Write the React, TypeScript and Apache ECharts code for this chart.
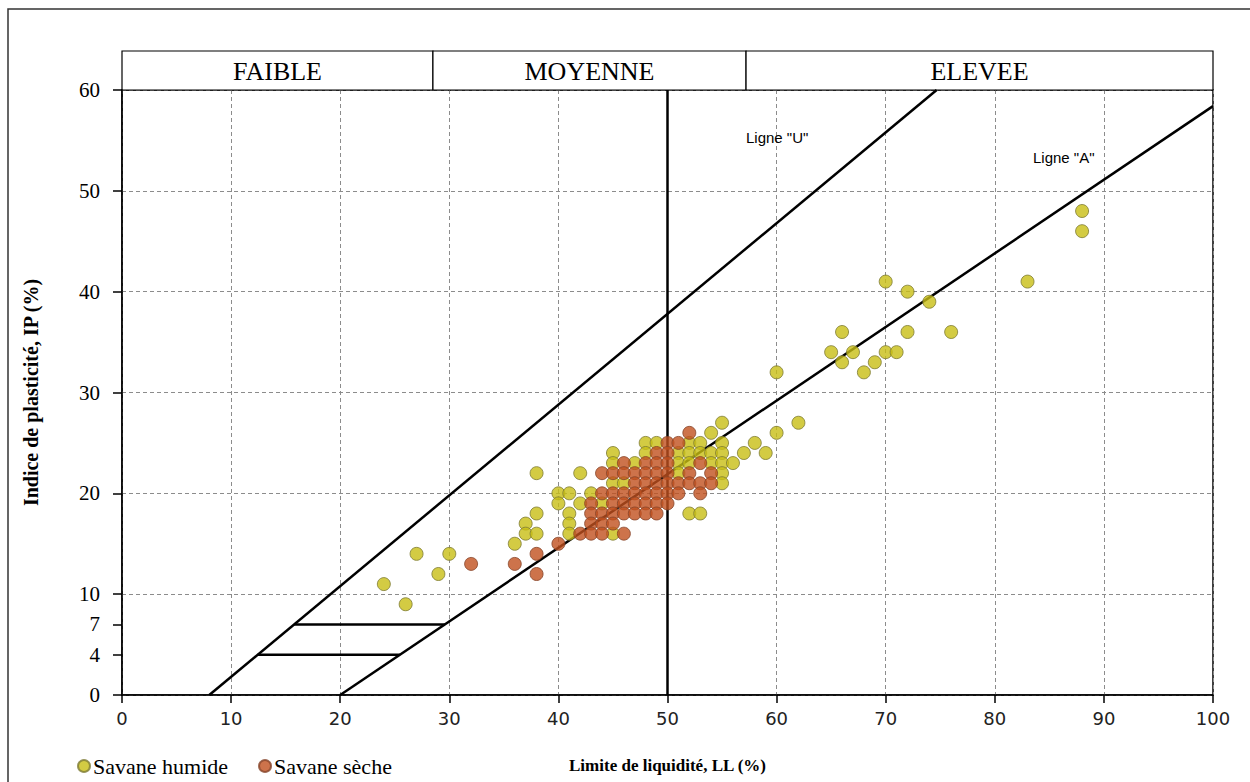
import React, { useEffect, useRef } from "react";
import * as echarts from "echarts";

// Savane humide points [LL, IP]
const humidePoints: number[][] = [
  [24, 11], [26, 9], [27, 14], [29, 12], [30, 14],
  [36, 15], [37, 17], [37, 16], [38, 16], [38, 18], [38, 22],
  [40, 20], [40, 19], [41, 20], [41, 18], [41, 17], [41, 16],
  [42, 22], [42, 19], [43, 20], [44, 19],
  [45, 24], [45, 23], [45, 21], [45, 16], [46, 21],
  [47, 23], [48, 25], [48, 24], [49, 25],
  [51, 24], [51, 23], [51, 22], [52, 25], [52, 24], [52, 23],
  [53, 25], [53, 24], [54, 26], [54, 24], [54, 23],
  [55, 27], [55, 25], [55, 24], [55, 23], [55, 22], [55, 21],
  [56, 23], [57, 24], [52, 18], [53, 18],
  [58, 25], [59, 24], [60, 26], [60, 32], [62, 27],
  [65, 34], [66, 36], [66, 33], [67, 34], [68, 32], [69, 33],
  [70, 41], [70, 34], [71, 34], [72, 40], [72, 36], [74, 39], [76, 36],
  [83, 41], [88, 48], [88, 46],
];

// Savane sèche points [LL, IP]
const sechePoints: number[][] = [
  [32, 13], [36, 13], [38, 14], [38, 12], [40, 15],
  [42, 16], [43, 19], [43, 18], [43, 17], [43, 16],
  [44, 22], [44, 20], [44, 18], [44, 17], [44, 16],
  [45, 22], [45, 20], [45, 19], [45, 18], [45, 17],
  [46, 23], [46, 22], [46, 20], [46, 19], [46, 18], [46, 16],
  [47, 22], [47, 21], [47, 20], [47, 19], [47, 18],
  [48, 23], [48, 22], [48, 21], [48, 20], [48, 19], [48, 18],
  [49, 24], [49, 23], [49, 22], [49, 21], [49, 20], [49, 19], [49, 18],
  [50, 25], [50, 24], [50, 23], [50, 22], [50, 21], [50, 20], [50, 19],
  [51, 25], [51, 21], [51, 20],
  [52, 26], [52, 22], [52, 21],
  [53, 23], [53, 21], [53, 20],
  [54, 22], [54, 21],
];

// Reference lines (end points)
const ligneU: number[][] = [[8, 0], [74.67, 60]];
const ligneA: number[][] = [[20, 0], [100, 58.4]];
const ligneLL50: number[][] = [[50, 0], [50, 60]];
const lignePI7: number[][] = [[15.78, 7], [29.59, 7]];
const lignePI4: number[][] = [[12.44, 4], [25.48, 4]];

const yTickValues = [0, 4, 7, 10, 20, 30, 40, 50, 60];
const classNames = ["FAIBLE", "MOYENNE", "ELEVEE"];
const classBounds = [0, 28.5, 57.2, 100];

const SERIF = "'Liberation Serif', 'Times New Roman', serif";
const SANS = "'DejaVu Sans', Verdana, sans-serif";
const ARIAL = "'Liberation Sans', Arial, sans-serif";

export default function App() {
  const ref = useRef<HTMLDivElement>(null);

  useEffect(() => {
    if (!ref.current) return;
    const chart = echarts.init(ref.current, undefined, { renderer: "svg" });

    const refLine = (data: number[][]) => ({
      type: "line",
      data,
      symbol: "none",
      silent: true,
      lineStyle: { color: "#000", width: 2.5 },
      z: 3,
    });

    const gridLineStyle = { color: "#8c8c8c", type: [4, 3], width: 1 };

    chart.setOption({
      animation: false,
      backgroundColor: "#fff",
      grid: {
        left: 122,
        right: 37,
        top: 90,
        bottom: 87,
        show: true,
        borderColor: "#000",
        borderWidth: 1.5,
      },
      legend: {
        left: 72,
        top: 750,
        itemWidth: 12,
        itemHeight: 12,
        itemGap: 30,
        icon: "circle",
        textStyle: { fontFamily: SERIF, fontSize: 22, color: "#000", padding: [0, 0, 0, -2] },
        data: ["Savane humide", "Savane sèche"],
      },
      xAxis: {
        type: "value",
        min: 0,
        max: 100,
        interval: 10,
        name: "Limite de liquidité, LL (%)",
        nameLocation: "middle",
        nameGap: 62,
        nameTextStyle: { fontFamily: SERIF, fontSize: 17, fontWeight: "bold", color: "#000" },
        axisLine: { lineStyle: { color: "#000", width: 1.5 } },
        axisTick: { show: true, inside: false, length: 8, lineStyle: { color: "#000", width: 1.5 } },
        axisLabel: { fontFamily: SANS, fontSize: 18, color: "#222", margin: 14 },
        splitLine: { show: true, lineStyle: gridLineStyle },
      },
      yAxis: [
        {
          type: "value",
          min: 0,
          max: 60,
          interval: 10,
          name: "Indice de plasticité, IP (%)",
          nameLocation: "middle",
          nameRotate: 90,
          nameGap: 81,
          nameTextStyle: { fontFamily: SERIF, fontSize: 20, fontWeight: "bold", color: "#000" },
          axisLine: { show: true, lineStyle: { color: "#000", width: 1.5 } },
          axisTick: {
            show: true,
            length: 9,
            customValues: yTickValues,
            lineStyle: { color: "#000", width: 1.5 },
          },
          axisLabel: {
            fontFamily: SERIF,
            fontSize: 21,
            color: "#000",
            margin: 22,
            customValues: yTickValues,
          },
          splitLine: { show: false },
        },
        {
          type: "value",
          min: 0,
          max: 60,
          interval: 10,
          position: "left",
          axisLine: { show: false },
          axisTick: { show: false },
          axisLabel: { show: false },
          splitLine: { show: true, lineStyle: gridLineStyle },
        },
      ],
      series: [
        refLine(ligneU),
        refLine(ligneA),
        refLine(ligneLL50),
        refLine(lignePI7),
        refLine(lignePI4),
        {
          name: "Savane humide",
          type: "scatter",
          data: humidePoints,
          symbol: "circle",
          symbolSize: 13,
          itemStyle: { color: "#c8be14", borderColor: "#7d7a35", borderWidth: 1 },
          z: 4,
        },
        {
          name: "Savane sèche",
          type: "scatter",
          data: sechePoints,
          symbol: "circle",
          symbolSize: 13,
          itemStyle: { color: "#c0501e", borderColor: "#86452a", borderWidth: 1 },
          z: 5,
        },
      ],
    });

    const toPx = (x: number, y: number) =>
      chart.convertToPixel({ gridIndex: 0 }, [x, y]) as number[];

    const headerTop = 51;
    const headerBottom = toPx(0, 60)[1];
    const graphics: any[] = [];
    // outer frame (left and top edges)
    graphics.push({
      type: "polyline",
      shape: { points: [[8, 790], [8, 9], [1260, 9]] },
      style: { stroke: "#333", lineWidth: 1.5, fill: null },
      silent: true,
    });
    for (let i = 0; i < classNames.length; i++) {
      const x0 = toPx(classBounds[i], 60)[0];
      const x1 = toPx(classBounds[i + 1], 60)[0];
      graphics.push({
        type: "rect",
        shape: { x: x0, y: headerTop, width: x1 - x0, height: headerBottom - headerTop },
        style: { fill: "#fff", stroke: "#000", lineWidth: 1.2 },
        silent: true,
      });
      graphics.push({
        type: "text",
        x: (x0 + x1) / 2,
        y: (headerTop + headerBottom) / 2 + 1,
        style: {
          text: classNames[i],
          fontFamily: SERIF,
          fontSize: 26,
          fill: "#000",
          align: "center",
          verticalAlign: "middle",
        },
        silent: true,
      });
    }
    graphics.push({
      type: "text",
      x: 746,
      y: 137,
      style: {
        text: 'Ligne "U"',
        fontFamily: ARIAL,
        fontSize: 15,
        fill: "#000",
        align: "left",
        verticalAlign: "middle",
      },
      silent: true,
    });
    graphics.push({
      type: "text",
      x: 1033,
      y: 157,
      style: {
        text: 'Ligne "A"',
        fontFamily: ARIAL,
        fontSize: 15,
        fill: "#000",
        align: "left",
        verticalAlign: "middle",
      },
      silent: true,
    });
    chart.setOption({ graphic: graphics });

    return () => chart.dispose();
  }, []);

  return (
    <div
      ref={ref}
      style={{ position: "fixed", left: 0, top: 0, width: 1250, height: 782, background: "#fff" }}
    />
  );
}
